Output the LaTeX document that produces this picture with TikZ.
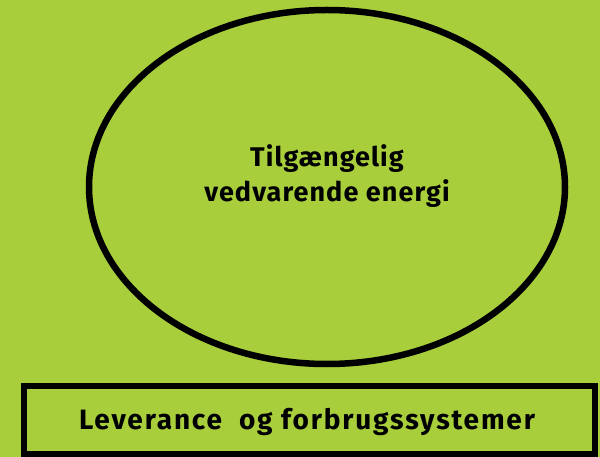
\documentclass[tikz,border=0pt]{standalone}
\usepackage{fontspec}
\setmainfont{Fira Sans}
\usetikzlibrary{shapes.geometric}
\definecolor{bggreen}{RGB}{168,206,60}
\begin{document}
\begin{tikzpicture}[x=1pt,y=-1pt,
  outline/.style={draw=black,line width=6.5pt},
  label/.style={font=\fontsize{27}{35}\selectfont\addfontfeature{LetterSpace=4}\bfseries,text=black,align=center,inner sep=0pt}]
\fill[bggreen] (0,0) rectangle (600,457);
\useasboundingbox (0,0) rectangle (600,457);
\node[outline,ellipse,minimum width=476pt,minimum height=354pt,inner sep=0pt] (energy) at (327,187) {};
\node[label] (energytext) at (327,176) {Tilgængelig\\vedvarende energi};
\node[outline,rectangle,minimum width=571pt,minimum height=68pt,inner sep=0pt] (supply) at (309.5,420) {};
\node[label,font=\fontsize{28}{35}\selectfont\addfontfeature{LetterSpace=6.5}\bfseries] (supplytext) at (307,422) {Leverance\ \ og forbrugssystemer};
\end{tikzpicture}
\end{document}
